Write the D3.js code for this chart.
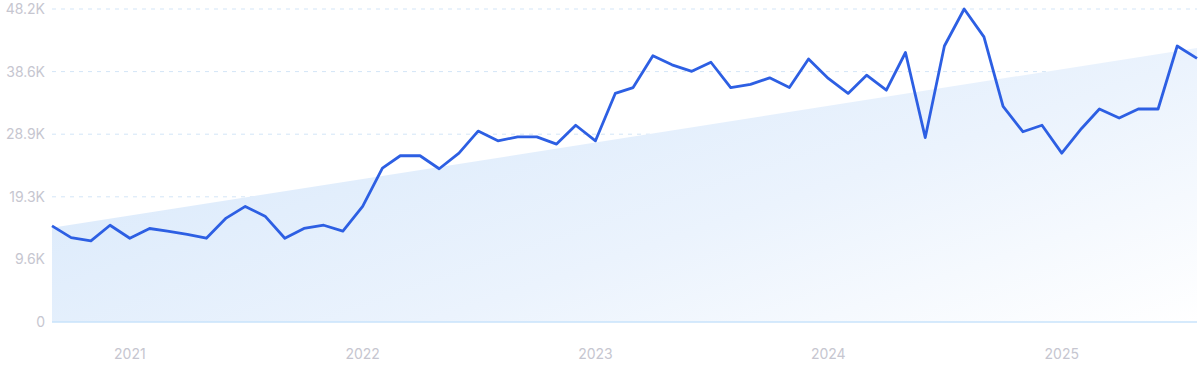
<!DOCTYPE html>
<html>
<head>
<meta charset="utf-8">
<script src="https://cdn.jsdelivr.net/npm/d3@7"></script>
<style>
  body { margin: 0; background: #fff; }
  svg { display: block; font-family: Inter, "Noto Sans", sans-serif; }
</style>
</head>
<body>
<svg id="chart" width="1200" height="371"></svg>
<script>
// monthly values, Sep 2020 .. Aug 2025
var startMonth = new Date(2020, 8, 1);
var values = [
    14.8, 13.0, 12.5, 14.9, 12.9, 14.4, 14.0, 13.5, 12.9, 16.0,
    17.8, 16.3, 12.9, 14.4, 14.9, 14.0, 17.8, 23.7, 25.6, 25.6,
    23.6, 26.0, 29.4, 27.9, 28.5, 28.5, 27.4, 30.3, 27.9, 35.2,
    36.1, 41.0, 39.6, 38.6, 40.0, 36.1, 36.6, 37.6, 36.1, 40.5,
    37.5, 35.2, 38.0, 35.7, 41.5, 28.4, 42.5, 48.2, 43.9, 33.2,
    29.3, 30.3, 26.0, 29.8, 32.8, 31.4, 32.8, 32.8, 42.5, 40.6
];
// trend band start / end value
var trend = [14.5, 42.2];
var yTicks = [0, 9.64, 19.28, 28.92, 38.56, 48.2];
var yTickLabels = ["0", "9.6K", "19.3K", "28.9K", "38.6K", "48.2K"];
var yearTicks = [2021, 2022, 2023, 2024, 2025];

var plotLeft = 52, plotRight = 1197, plotTop = 9, plotBottom = 322;

var dates = values.map(function(v, i) {
    return d3.timeMonth.offset(startMonth, i);
});

var x = d3.scaleTime()
    .domain([dates[0], dates[dates.length - 1]])
    .range([plotLeft, plotRight]);
var y = d3.scaleLinear().domain([0, 48.2]).range([plotBottom, plotTop]);

var svg = d3.select("#chart");

var defs = svg.append("defs");
var grad = defs.append("linearGradient").attr("id", "fillGrad")
    .attr("x1", "0%").attr("y1", "30%").attr("x2", "100%").attr("y2", "100%");
grad.append("stop").attr("offset", "0%").attr("stop-color", "#d9e9fb");
grad.append("stop").attr("offset", "55%").attr("stop-color", "#ebf3fd");
grad.append("stop").attr("offset", "100%").attr("stop-color", "#ffffff");

// gridlines
svg.append("g").selectAll("line")
    .data(yTicks.slice(1))
    .enter().append("line")
    .attr("x1", plotLeft).attr("x2", plotRight)
    .attr("y1", function(d) { return y(d); })
    .attr("y2", function(d) { return y(d); })
    .attr("stroke", "#d3e5f7")
    .attr("stroke-width", 1)
    .attr("stroke-dasharray", "4,5");

// trend area
var trendData = [
    { d: dates[0], v: trend[0] },
    { d: dates[dates.length - 1], v: trend[1] }
];
var area = d3.area()
    .x(function(d) { return x(d.d); })
    .y0(y(0))
    .y1(function(d) { return y(d.v); });
svg.append("path").datum(trendData)
    .attr("d", area)
    .attr("fill", "url(#fillGrad)");

// baseline
svg.append("line")
    .attr("x1", plotLeft).attr("x2", plotRight)
    .attr("y1", y(0)).attr("y2", y(0))
    .attr("stroke", "#c9e3fb").attr("stroke-width", 1.5);

// y labels
svg.append("g").selectAll("text")
    .data(yTicks)
    .enter().append("text")
    .attr("x", 45)
    .attr("y", function(d) { return y(d); })
    .attr("dy", "0.36em")
    .attr("text-anchor", "end")
    .attr("font-size", 14)
    .attr("fill", "#c6c6d0")
    .text(function(d, i) { return yTickLabels[i]; });

// x labels
svg.append("g").selectAll("text")
    .data(yearTicks)
    .enter().append("text")
    .attr("x", function(d) { return x(new Date(d, 0, 1)); })
    .attr("y", 359)
    .attr("text-anchor", "middle")
    .attr("font-size", 14)
    .attr("fill", "#c6c6d0")
    .text(function(d) { return d; });

// main line
var line = d3.line()
    .x(function(d, i) { return x(dates[i]); })
    .y(function(d) { return y(d); });
svg.append("path").datum(values)
    .attr("d", line)
    .attr("fill", "none")
    .attr("stroke", "#2d5fe3")
    .attr("stroke-width", 2.8)
    .attr("stroke-linejoin", "round");
</script>
</body>
</html>
